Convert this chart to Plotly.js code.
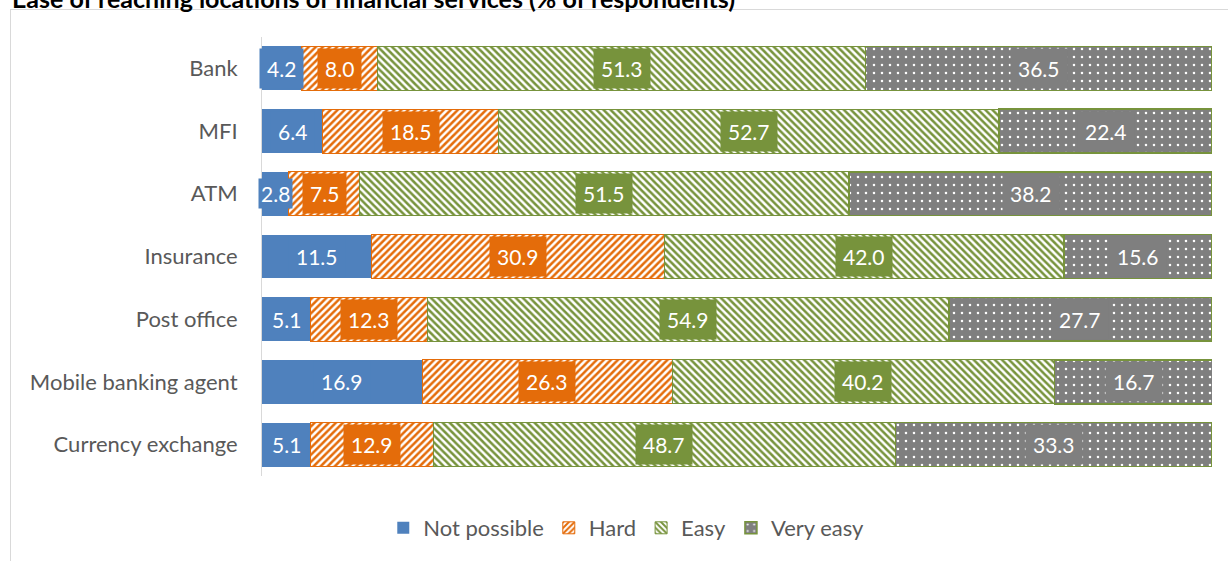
<!DOCTYPE html>
<html>
<head>
<meta charset="utf-8">
<script src="https://cdn.plot.ly/plotly-3.0.1.min.js"></script>
<style>
  html, body { margin: 0; padding: 0; background: #fff; overflow: hidden; }
  #frame { position: absolute; left: 10px; top: 9px; width: 1240px; height: 600px; border: 1px solid #d9d9d9; box-sizing: border-box; }
  #chart { position: absolute; left: 0; top: 0; width: 1228px; height: 561px; }
</style>
</head>
<body>
<div id="frame"></div>
<div id="chart"></div>
<script>
const categories = ["Bank", "MFI", "ATM", "Insurance", "Post office", "Mobile banking agent", "Currency exchange"];
const notPossible = [4.2, 6.4, 2.8, 11.5, 5.1, 16.9, 5.1];
const hard        = [8.0, 18.5, 7.5, 30.9, 12.3, 26.3, 12.9];
const easy        = [51.3, 52.7, 51.5, 42.0, 54.9, 40.2, 48.7];
const veryEasy    = [36.5, 22.4, 38.2, 15.6, 27.7, 16.7, 33.3];
const seriesNames = ["Not possible", "Hard", "Easy", "Very easy"];
const chartTitle = "Ease of reaching locations of financial services (% of respondents)";

const BLUE = "#4f81bd", ORANGE = "#e46c0a", GREEN = "#77933c", GRAY = "#7f7f7f";
const seriesData = [notPossible, hard, easy, veryEasy];
const labelBg = [BLUE, ORANGE, GREEN, GRAY];
const FONT = "Lato, 'Open Sans', sans-serif";

const traces = [
  { type: "bar", orientation: "h", name: seriesNames[0], y: categories, x: notPossible,
    marker: { color: BLUE, line: { width: 0 } }, hoverinfo: "x+name" },
  { type: "bar", orientation: "h", name: seriesNames[1], y: categories, x: hard,
    marker: { color: "#ffffff", line: { color: ORANGE, width: 1 },
      pattern: { shape: "/", fgcolor: ORANGE, bgcolor: "#ffffff", size: 5, solidity: 0.5, fillmode: "replace" } }, hoverinfo: "x+name" },
  { type: "bar", orientation: "h", name: seriesNames[2], y: categories, x: easy,
    marker: { color: "#ffffff", line: { color: GREEN, width: 1 },
      pattern: { shape: "\\", fgcolor: GREEN, bgcolor: "#ffffff", size: 5, solidity: 0.5, fillmode: "replace" } }, hoverinfo: "x+name" },
  { type: "bar", orientation: "h", name: seriesNames[3], y: categories, x: veryEasy,
    marker: { color: GRAY, line: { color: GREEN, width: 1.5 },
      pattern: { shape: ".", fgcolor: "#ffffff", bgcolor: GRAY, size: 8, solidity: 0.08, fillmode: "replace" } }, hoverinfo: "x+name" }
];

const annotations = [];
categories.forEach((cat, i) => {
  let cum = 0;
  seriesData.forEach((arr, s) => {
    const v = arr[i];
    annotations.push({
      x: cum + v / 2, y: cat, xref: "x", yref: "y",
      text: v.toFixed(1), showarrow: false,
      font: { family: FONT, size: 21, color: "#ffffff" },
      bgcolor: labelBg[s], borderpad: v < 4 ? 2 : 7, xanchor: "center", yanchor: "middle"
    });
    cum += v;
  });
});

// cropped title at the top
annotations.push({
  text: "<b>" + chartTitle + "</b>", xref: "paper", yref: "paper",
  x: (10 - 262) / 950, y: 1 + 39 / 439, xanchor: "left", yanchor: "middle",
  showarrow: false, font: { family: FONT, size: 25, color: "#000000" }
});

const layout = {
  width: 1228, height: 561,
  margin: { l: 262, r: 16, t: 37, b: 85 },
  paper_bgcolor: "rgba(0,0,0,0)", plot_bgcolor: "rgba(0,0,0,0)",
  barmode: "stack", bargap: 0.3,
  showlegend: true,
  font: { family: FONT, color: "#595959", size: 22 },
  xaxis: { range: [0, 100], showgrid: false, zeroline: false, showticklabels: false, showline: false, fixedrange: true },
  yaxis: { autorange: "reversed", showgrid: false, zeroline: false, showline: true, linecolor: "#d9d9d9", linewidth: 1,
           ticks: "", ticklabelstandoff: 19, tickfont: { size: 22, color: "#595959" }, fixedrange: true },
  legend: { orientation: "h", xref: "container", yref: "container", x: 0.51, y: 1 - 528 / 561,
            xanchor: "center", yanchor: "middle", font: { size: 22, color: "#595959" },
            itemwidth: 30, traceorder: "normal" },
  annotations: annotations
};

Plotly.newPlot("chart", traces, layout, { displayModeBar: false, staticPlot: true });
</script>
</body>
</html>
